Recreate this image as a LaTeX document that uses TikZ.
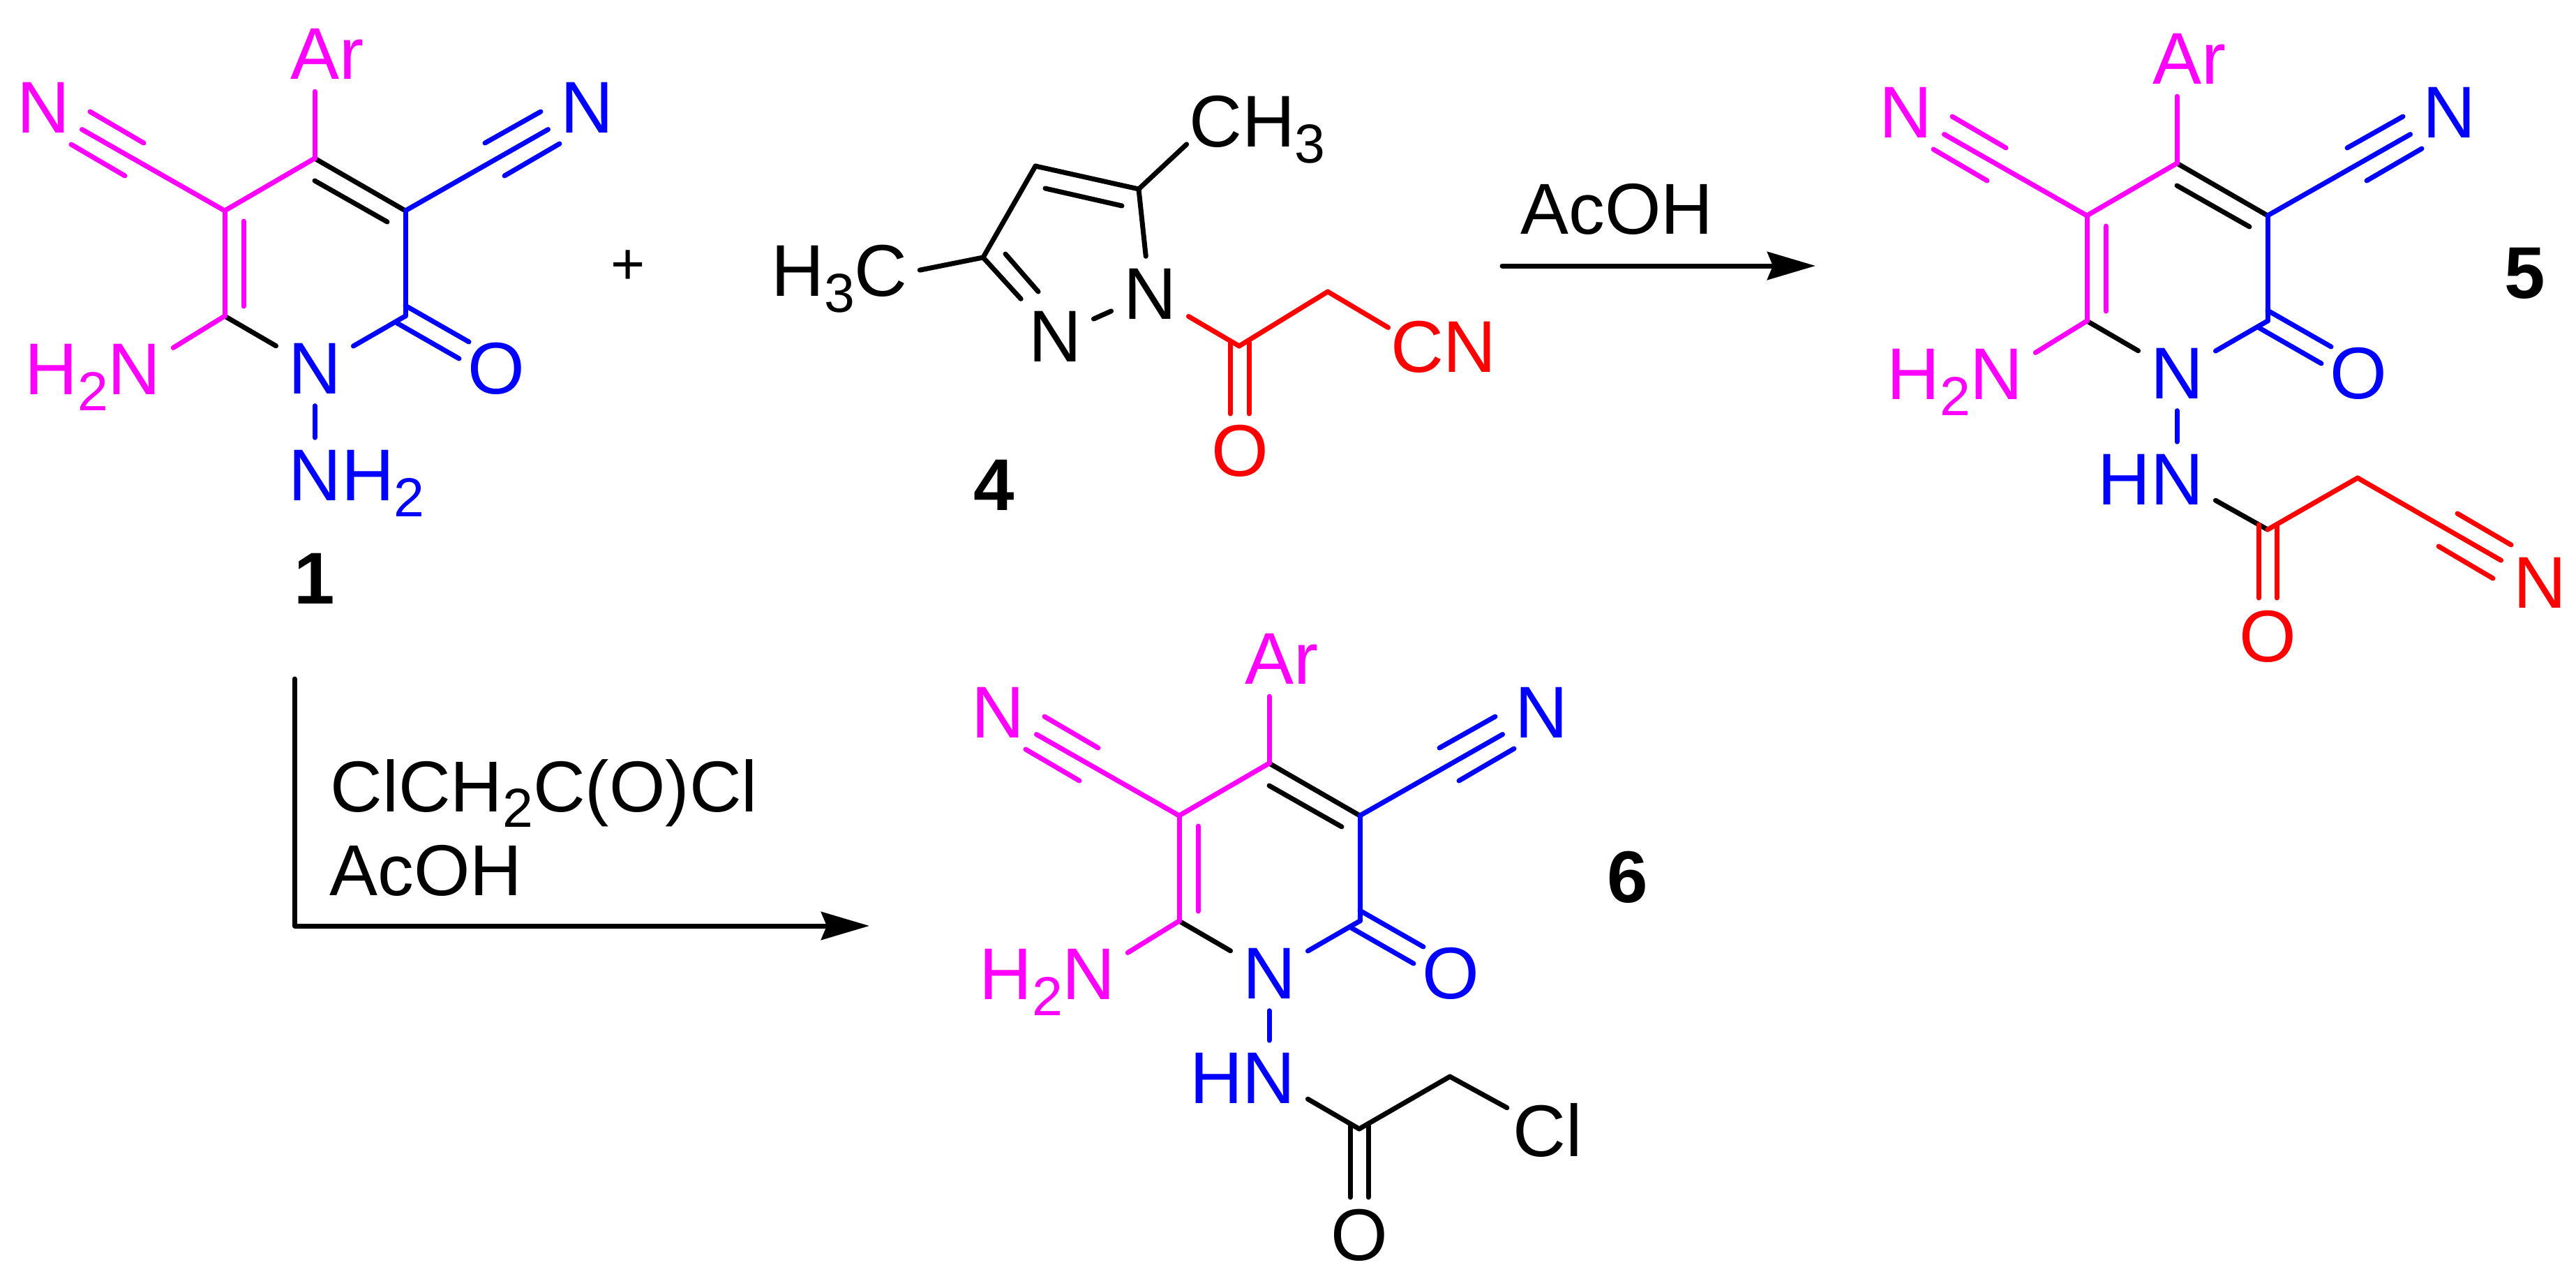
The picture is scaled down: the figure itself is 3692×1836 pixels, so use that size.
\documentclass[tikz,border=0pt]{standalone}
\usepackage{fontspec}
\setmainfont{Liberation Sans}
\usetikzlibrary{arrows.meta}
\definecolor{pinkc}{RGB}{255,0,255}
\definecolor{bluec}{RGB}{0,0,255}
\definecolor{redc}{RGB}{255,0,0}
\newcommand{\chemsub}[1]{\raisebox{-0.22em}{\fontsize{22.4}{27}\selectfont #1}}
\tikzset{
  atom/.style={font=\fontsize{29.88}{36}\selectfont,inner sep=0.14cm},
  pinkatom/.style={atom,text=pinkc},
  blueatom/.style={atom,text=bluec},
  redatom/.style={atom,text=redc},
  molnum/.style={font=\fontsize{29.88}{36}\selectfont\bfseries,inner sep=0pt},
  reagent/.style={font=\fontsize{29.4}{36}\selectfont,inner sep=0pt,anchor=base west},
  rxnarrow/.style={line width=0.07cm,-{Stealth[length=0.69cm,width=0.4cm,inset=0.08cm]}}
}
\begin{document}
\begin{tikzpicture}[x=0.01cm,y=-0.01cm,line width=0.07cm,line cap=round,line join=round]
      \useasboundingbox (0,0) rectangle (3692,1836);
      % compound 1
      \path
        (451,227) coordinate (m1c4)
        (581,302) coordinate (m1c3)
        (581,453) coordinate (m1c2)
        (322,453) coordinate (m1c6)
        (322,302) coordinate (m1c5)
        (451,259) coordinate (m1p1) (555,318) coordinate (m1p2)
        (349,317) coordinate (m1p3) (349,439) coordinate (m1p4)
        (129,160) coordinate (m1p5) (206,205) coordinate (m1p6)
        (102,207) coordinate (m1p7) (179,252) coordinate (m1p8)
        (695,205) coordinate (m1p9) (775,160) coordinate (m1p10)
        (723,252) coordinate (m1p11) (802,206) coordinate (m1p12)
        (581,438) coordinate (m1p13) (672,490) coordinate (m1p14)
        (569,463) coordinate (m1p15) (658,514) coordinate (m1p16)
        (469,77.5) node[pinkatom] (m1ar) {Ar}
        (62,154) node[pinkatom] (m1nl) {N}
        (841,154) node[blueatom] (m1nr) {N}
        (451,528) node[blueatom] (m1n) {N}
        (711,528) node[blueatom] (m1o) {O}
        (133,565) node[pinkatom,anchor=base] (m1hn) {H\chemsub{2}N}
        (511,717) node[blueatom,anchor=base] (m1nh) {NH\chemsub{2}}
        (451,829) node[molnum] (m1num) {1}
        (900,383) node[font=\fontsize{24}{28}\selectfont,inner sep=0pt] (plus) {+};
      \begin{scope}[black]
        \draw (m1c4) to (m1c3);
        \draw (m1p1) to (m1p2);
        \draw (m1c6) to (m1n);
      \end{scope}
      \begin{scope}[pinkc]
        \draw (m1c4) to (m1c5);
        \draw (m1c5) to (m1c6);
        \draw (m1p3) to (m1p4);
        \draw (m1c5) to (m1nl);
        \draw (m1p5) to (m1p6);
        \draw (m1p7) to (m1p8);
        \draw (m1c4) to (m1c4 |- m1ar.south);
        \draw (m1c6) to (m1hn.20);
      \end{scope}
      \begin{scope}[bluec]
        \draw (m1c3) to (m1c2);
        \draw (m1c2) to (m1n);
        \draw (m1c3) to (m1nr);
        \draw (m1p9) to (m1p10);
        \draw (m1p11) to (m1p12);
        \draw (m1p13) to (m1p14);
        \draw (m1p15) to (m1p16);
        \draw (m1n.south) to (m1n.south |- m1nh.north);
      \end{scope}
      % compound 4
      \path
        (1484,238) coordinate (m4c4)
        (1632,271) coordinate (m4c5)
        (1409,369) coordinate (m4c3)
        (1776,496) coordinate (m4co)
        (1903,418) coordinate (m4ch)
        (1498,270) coordinate (m4p1) (1608,295) coordinate (m4p2)
        (1441,364) coordinate (m4p3) (1488,418) coordinate (m4p4)
        (1763,491) coordinate (m4p5) (1763,593) coordinate (m4p6)
        (1790,491) coordinate (m4p7) (1790,593) coordinate (m4p8)
        (1648,421) node[atom] (m4n1) {N}
        (1512,482) node[atom] (m4n2) {N}
        (1203,424) node[atom,anchor=base] (m4hc) {H\chemsub{3}C}
        (1802,210) node[atom,anchor=base,inner xsep=0pt] (m4me) {CH\chemsub{3}}
        (1777,646) node[redatom] (m4o) {O}
        (2069,533) node[redatom,anchor=base,inner xsep=0pt] (m4cn) {CN}
        (1425,695) node[molnum] (m4num) {4};
      \begin{scope}[black]
        \draw (m4c3) to (m4c4);
        \draw (m4c4) to (m4c5);
        \draw (m4p1) to (m4p2);
        \draw (m4c5) to (m4n1);
        \draw (m4n1) to (m4n2);
        \draw (m4c3) to (m4n2);
        \draw (m4p3) to (m4p4);
        \draw (m4c3) to (m4hc.6);
        \draw (m4c5) to (m4me.192);
      \end{scope}
      \begin{scope}[redc]
        \draw (m4n1) to (m4co);
        \draw (m4co) to (m4ch);
        \draw (m4ch) to (m4cn.161);
        \draw (m4p5) to (m4p6);
        \draw (m4p7) to (m4p8);
      \end{scope}
      % compound 5
      \begin{scope}[shift={(2669,7)}]
      \path
        (451,227) coordinate (m5c4)
        (581,302) coordinate (m5c3)
        (581,453) coordinate (m5c2)
        (322,453) coordinate (m5c6)
        (322,302) coordinate (m5c5)
        (581,752) coordinate (m5co)
        (710,678) coordinate (m5ch)
        (451,259) coordinate (m5p1) (555,318) coordinate (m5p2)
        (349,317) coordinate (m5p3) (349,439) coordinate (m5p4)
        (129,160) coordinate (m5p5) (206,205) coordinate (m5p6)
        (102,207) coordinate (m5p7) (179,252) coordinate (m5p8)
        (695,205) coordinate (m5p9) (775,160) coordinate (m5p10)
        (723,252) coordinate (m5p11) (802,206) coordinate (m5p12)
        (581,438) coordinate (m5p13) (672,490) coordinate (m5p14)
        (569,463) coordinate (m5p15) (658,514) coordinate (m5p16)
        (568,745) coordinate (m5p17) (568,850) coordinate (m5p18)
        (594,745) coordinate (m5p19) (594,850) coordinate (m5p20)
        (853,729) coordinate (m5p21) (930,774) coordinate (m5p22)
        (826,776) coordinate (m5p23) (904,822) coordinate (m5p24)
        (469,77.5) node[pinkatom] (m5ar) {Ar}
        (62,154) node[pinkatom] (m5nl) {N}
        (841,154) node[blueatom] (m5nr) {N}
        (451,528) node[blueatom] (m5n) {N}
        (711,528) node[blueatom] (m5o) {O}
        (133,565) node[pinkatom,anchor=base] (m5hn) {H\chemsub{2}N}
        (413,716) node[blueatom,anchor=base] (m5nh) {HN}
        (581,905) node[redatom] (m5oa) {O}
        (971,828) node[redatom] (m5nc) {N}
        (950,385) node[molnum] (m5num) {5};
      \begin{scope}[black]
        \draw (m5c4) to (m5c3);
        \draw (m5p1) to (m5p2);
        \draw (m5c6) to (m5n);
        \draw (m5nh.-18) to (m5co);
      \end{scope}
      \begin{scope}[pinkc]
        \draw (m5c4) to (m5c5);
        \draw (m5c5) to (m5c6);
        \draw (m5p3) to (m5p4);
        \draw (m5c5) to (m5nl);
        \draw (m5p5) to (m5p6);
        \draw (m5p7) to (m5p8);
        \draw (m5c4) to (m5c4 |- m5ar.south);
        \draw (m5c6) to (m5hn.20);
      \end{scope}
      \begin{scope}[bluec]
        \draw (m5c3) to (m5c2);
        \draw (m5c2) to (m5n);
        \draw (m5c3) to (m5nr);
        \draw (m5p9) to (m5p10);
        \draw (m5p11) to (m5p12);
        \draw (m5p13) to (m5p14);
        \draw (m5p15) to (m5p16);
        \draw (m5n.south) to (m5n.south |- m5nh.north);
      \end{scope}
      \begin{scope}[redc]
        \draw (m5co) to (m5ch);
        \draw (m5ch) to (m5nc);
        \draw (m5p17) to (m5p18);
        \draw (m5p19) to (m5p20);
        \draw (m5p21) to (m5p22);
        \draw (m5p23) to (m5p24);
      \end{scope}
      \end{scope}
      % compound 6
      \begin{scope}[shift={(1368,867)}]
      \path
        (451,227) coordinate (m6c4)
        (581,302) coordinate (m6c3)
        (581,453) coordinate (m6c2)
        (322,453) coordinate (m6c6)
        (322,302) coordinate (m6c5)
        (580,751) coordinate (m6co)
        (710,676) coordinate (m6ch)
        (451,259) coordinate (m6p1) (555,318) coordinate (m6p2)
        (349,317) coordinate (m6p3) (349,439) coordinate (m6p4)
        (129,160) coordinate (m6p5) (206,205) coordinate (m6p6)
        (102,207) coordinate (m6p7) (179,252) coordinate (m6p8)
        (695,205) coordinate (m6p9) (775,160) coordinate (m6p10)
        (723,252) coordinate (m6p11) (802,206) coordinate (m6p12)
        (581,438) coordinate (m6p13) (672,490) coordinate (m6p14)
        (569,463) coordinate (m6p15) (658,514) coordinate (m6p16)
        (567,745) coordinate (m6p17) (567,849) coordinate (m6p18)
        (593,745) coordinate (m6p19) (593,849) coordinate (m6p20)
        (469,77.5) node[pinkatom] (m6ar) {Ar}
        (62,154) node[pinkatom] (m6nl) {N}
        (841,154) node[blueatom] (m6nr) {N}
        (451,528) node[blueatom] (m6n) {N}
        (711,528) node[blueatom] (m6o) {O}
        (133,565) node[pinkatom,anchor=base] (m6hn) {H\chemsub{2}N}
        (413,714) node[blueatom,anchor=base] (m6nh) {HN}
        (580,903) node[atom] (m6oa) {O}
        (850,790) node[atom,anchor=base,inner xsep=0.05cm] (m6cl) {Cl}
        (965,390) node[molnum] (m6num) {6};
      \begin{scope}[black]
        \draw (m6c4) to (m6c3);
        \draw (m6p1) to (m6p2);
        \draw (m6c6) to (m6n);
        \draw (m6nh.-18) to (m6co);
        \draw (m6co) to (m6ch);
        \draw (m6ch) to (m6cl);
        \draw (m6p17) to (m6p18);
        \draw (m6p19) to (m6p20);
      \end{scope}
      \begin{scope}[pinkc]
        \draw (m6c4) to (m6c5);
        \draw (m6c5) to (m6c6);
        \draw (m6p3) to (m6p4);
        \draw (m6c5) to (m6nl);
        \draw (m6p5) to (m6p6);
        \draw (m6p7) to (m6p8);
        \draw (m6c4) to (m6c4 |- m6ar.south);
        \draw (m6c6) to (m6hn.20);
      \end{scope}
      \begin{scope}[bluec]
        \draw (m6c3) to (m6c2);
        \draw (m6c2) to (m6n);
        \draw (m6c3) to (m6nr);
        \draw (m6p9) to (m6p10);
        \draw (m6p11) to (m6p12);
        \draw (m6p13) to (m6p14);
        \draw (m6p15) to (m6p16);
        \draw (m6n.south) to (m6n.south |- m6nh.north);
      \end{scope}
      \end{scope}
      % reactions
      \path
        (2153,381) coordinate (rxn1a)
        (2602,381) coordinate (rxn1b)
        (422,973) coordinate (rxn2a)
        (422,1327) coordinate (rxn2b)
        (1246,1327) coordinate (rxn2c)
        (2176,335) node[reagent] (acoh1) {AcOH}
        (470,1163) node[reagent] (clac) {ClCH\chemsub{2}C(O)Cl}
        (469,1283) node[reagent] (acoh2) {AcOH};
      \draw[rxnarrow] (rxn1a) to (rxn1b);
      \draw[rxnarrow] (rxn2a) -- (rxn2b) -- (rxn2c);
    \end{tikzpicture}
\end{document}
